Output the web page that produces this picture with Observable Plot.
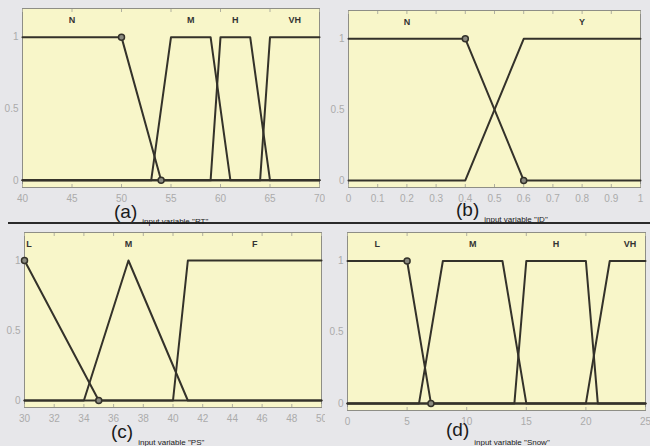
<!DOCTYPE html>
<html><head><meta charset="utf-8">
<script src="https://cdn.jsdelivr.net/npm/d3@7"></script>
<script src="https://cdn.jsdelivr.net/npm/@observablehq/plot@0.6"></script>
<style>
html,body{margin:0;padding:0;background:#e7e7ea;}
#wrap{position:relative;width:650px;height:446px;overflow:hidden;background:#e7e7ea;font-family:"Liberation Sans",Arial,sans-serif;}
.panel{position:absolute;}
.cap{position:absolute;color:#1a1a1a;white-space:nowrap;line-height:1;}
.cap .big{font-size:19px;}
.cap .small{font-size:8px;}
#sep{position:absolute;left:8px;top:222px;width:642px;height:2px;background:#2a2a2a;}
</style>
</head><body><div id="wrap"><div id="sep"></div></div>
<script>
// ---- data ----
const rtNames = ["N", "M", "H", "VH"];
const rtParams = [[40, 40, 50, 54], [53, 55, 59, 61], [59, 60, 63, 65], [64, 65, 70, 70]];
const rtLabelX = [45, 57, 61.5, 67.5];
const rtMarkers = [[50, 1], [54, 0]];
const rtTicks = [40, 45, 50, 55, 60, 65, 70];

const idNames = ["N", "Y"];
const idParams = [[0, 0, 0.4, 0.6], [0.4, 0.6, 1, 1]];
const idLabelX = [0.2, 0.8];
const idMarkers = [[0.4, 1], [0.6, 0]];
const idTicks = [0, 0.1, 0.2, 0.3, 0.4, 0.5, 0.6, 0.7, 0.8, 0.9, 1];

const psNames = ["L", "M", "F"];
const psParams = [[30, 30, 30, 35], [34, 37, 37, 41], [40, 41, 50, 50]];
const psLabelX = [30.3, 37, 45.5];
const psMarkers = [[30, 1], [35, 0]];
const psTicks = [30, 32, 34, 36, 38, 40, 42, 44, 46, 48, 50];

const snNames = ["L", "M", "H", "VH"];
const snParams = [[0, 0, 5, 7], [6, 8, 13, 15], [14, 15, 20, 21], [20, 22, 25, 25]];
const snLabelX = [2.5, 10.5, 17.5, 23.7];
const snMarkers = [[5, 1], [7, 0]];
const snTicks = [0, 5, 10, 15, 20, 25];

const yTicks = [0, 0.5, 1];
const captions = [["(a)", "input variable \"RT\""], ["(b)", "input variable \"ID\""], ["(c)", "input variable \"PS\""], ["(d)", "input variable \"Snow\""]];

// ---- helpers ----
function mu(x, [a, b, c, d]) {
  if (x < a || x > d) return 0;
  if (x < b) return (x - a) / (b - a);
  if (x <= c) return 1;
  return (d - x) / (d - c);
}
function mfRows(names, params, lo, hi) {
  const rows = [];
  names.forEach((n, i) => {
    const p = params[i];
    [lo, p[0], p[1], p[2], p[3], hi].forEach(x => rows.push({name: n, x, y: mu(x, p)}));
  });
  return rows;
}

const yellow = "#f8f6c9", lineC = "#34322a", tickC = "#ababab";

function panel({names, params, labelX, markers, ticks, lo, hi, left, top, width, height, margins}) {
  const rows = mfRows(names, params, lo, hi);
  const labels = names.map((n, i) => ({name: n, x: labelX[i]}));
  const chart = Plot.plot({
    width, height,
    marginLeft: margins[0], marginRight: margins[1], marginTop: margins[2], marginBottom: margins[3],
    style: {background: "transparent", fontFamily: "Liberation Sans, Arial, sans-serif"},
    x: {domain: [lo, hi], label: null},
    y: {domain: [-0.05, 1.2], label: null},
    marks: [
      Plot.frame({fill: yellow, stroke: "#8e8e86", strokeWidth: 1}),
      Plot.axisX(ticks, {anchor: "bottom", tickSize: -3, tickPadding: 10, fontSize: 10, color: tickC, stroke: "#b0b0a0", tickFormat: d => String(d), label: null}),
      Plot.axisX(ticks, {anchor: "top", tickSize: -3, text: null, stroke: "#b0b0a0", label: null}),
      Plot.axisY(yTicks, {anchor: "left", tickSize: 0, tickPadding: 4, fontSize: 10, color: tickC, tickFormat: d => String(d), label: null}),
      Plot.line(rows, {x: "x", y: "y", z: "name", stroke: lineC, strokeWidth: 2}),
      Plot.dot(markers, {x: d => d[0], y: d => d[1], r: 3, stroke: lineC, strokeWidth: 1.5, fill: "#8a8a80"}),
      Plot.text(labels, {x: "x", y: () => 1.12, text: "name", fontSize: 9, fontWeight: "bold", fill: "#333"})
    ]
  });
  chart.classList.add("panel");
  chart.style.left = left + "px";
  chart.style.top = top + "px";
  chart.style.position = "absolute";
  document.getElementById("wrap").appendChild(chart);
}

panel({names: rtNames, params: rtParams, labelX: rtLabelX, markers: rtMarkers, ticks: rtTicks, lo: 40, hi: 70,
  left: -4, top: 0, width: 329, height: 222, margins: [26, 6, 8, 35]});
panel({names: idNames, params: idParams, labelX: idLabelX, markers: idMarkers, ticks: idTicks, lo: 0, hi: 1,
  left: 325, top: 0, width: 325, height: 222, margins: [23, 10, 10, 35]});
panel({names: psNames, params: psParams, labelX: psLabelX, markers: psMarkers, ticks: psTicks, lo: 30, hi: 50,
  left: 0, top: 224, width: 325, height: 222, margins: [24, 4, 8, 39]});
panel({names: snNames, params: snParams, labelX: snLabelX, markers: snMarkers, ticks: snTicks, lo: 0, hi: 25,
  left: 325, top: 224, width: 325, height: 222, margins: [22, 5, 8, 36]});

// captions
const capPos = [[114, 202, 6], [456, 200, 6], [111, 422, 7], [446, 420, 9]];
captions.forEach((c, i) => {
  const el = document.createElement("div");
  el.className = "cap";
  el.style.left = capPos[i][0] + "px";
  el.style.top = capPos[i][1] + "px";
  el.innerHTML = `<span class="big"></span><span class="small" style="position:relative;top:${capPos[i][2]}px;margin-left:5px"></span>`;
  el.querySelector(".big").textContent = c[0];
  el.querySelector(".small").textContent = c[1];
  document.getElementById("wrap").appendChild(el);
});
</script>
</body></html>
